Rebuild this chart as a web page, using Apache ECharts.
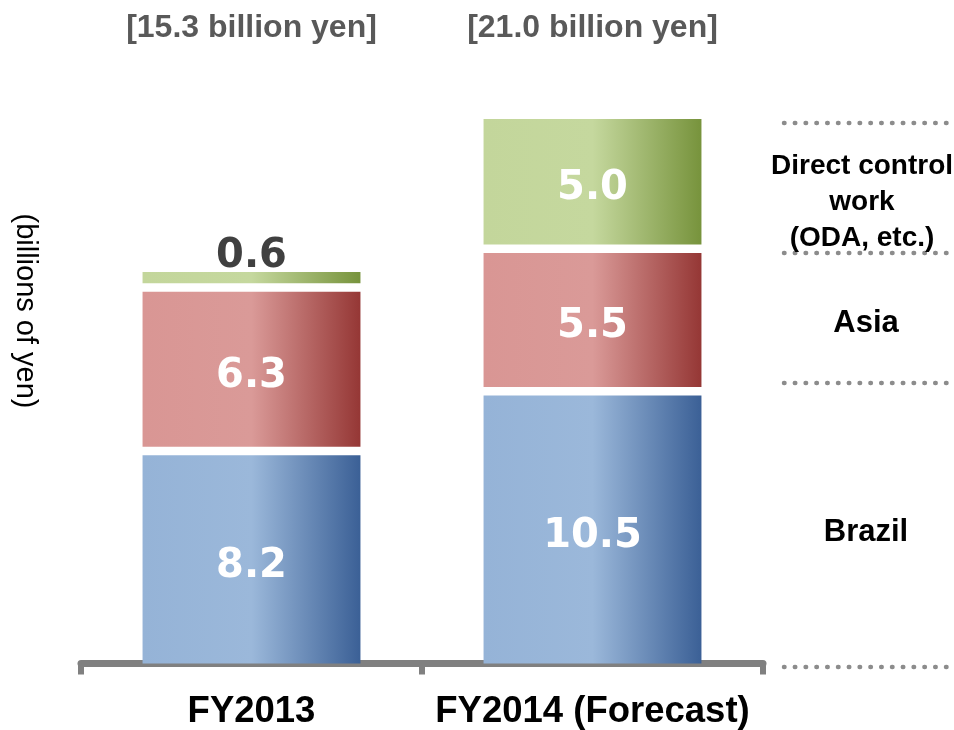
<!DOCTYPE html>
<html>
<head>
<meta charset="utf-8">
<script src="https://cdn.jsdelivr.net/npm/echarts@6/dist/echarts.min.js"></script>
<style>
  html, body { margin: 0; padding: 0; background: #fff; }
  #main { width: 954px; height: 730px; }
</style>
</head>
<body>
<div id="main"></div>
<script>
const categories = ['FY2013', 'FY2014 (Forecast)'];
const totalLabels = ['[15.3 billion yen]', '[21.0 billion yen]'];
const brazil = [8.2, 10.5];
const asia = [6.3, 5.5];
const directControl = [0.6, 5.0];
const segmentNames = ['Brazil', 'Asia', 'Direct control\nwork\n(ODA, etc.)'];

const stacks = [brazil, asia, directControl];
const gradients = [
    ['#95b3d7', '#9bb8da', '#3b6096'],
    ['#d99694', '#da9a98', '#953735'],
    ['#c3d69b', '#c5d89e', '#77933c']
];
const FONT = '"Liberation Sans", Arial, sans-serif';

// rows: [category index, stacked base, value, is top of stack]
function buildData(k) {
    return categories.map((c, i) => {
        let base = 0;
        for (let j = 0; j < k; j++) base += stacks[j][i];
        return [i, base, stacks[k][i], k === stacks.length - 1 ? 1 : 0];
    });
}

function makeRender(k) {
    const g = gradients[k];
    return function (params, api) {
        const idx = api.value(0), base = api.value(1), val = api.value(2), isTop = api.value(3) === 1;
        const p0 = api.coord([idx, base]);
        const p1 = api.coord([idx, base + val]);
        const bw = api.size([1, 0])[0] * 0.639;
        const gap = 4.25;
        const y0 = p0[1] - (base > 0 ? gap : 0);
        const y1 = p1[1] + (isTop ? 0 : gap);
        const h = y0 - y1;
        const small = h < 40;
        return {
            type: 'group',
            children: [
                {
                    type: 'rect',
                    shape: {x: p0[0] - bw / 2, y: y1, width: bw, height: h},
                    style: {
                        fill: new echarts.graphic.LinearGradient(0, 0, 1, 0, [
                            {offset: 0, color: g[0]},
                            {offset: 0.5, color: g[1]},
                            {offset: 1, color: g[2]}
                        ])
                    }
                },
                {
                    type: 'text',
                    x: p0[0],
                    y: small ? y1 - 15 : (y0 + y1) / 2 + 7,
                    style: {
                        text: val.toFixed(1),
                        fill: small ? '#404040' : '#ffffff',
                        font: 'bold 40px "DejaVu Sans", Verdana, sans-serif',
                        textAlign: 'center',
                        textVerticalAlign: 'middle'
                    }
                }
            ]
        };
    };
}

const chart = echarts.init(document.getElementById('main'), null, {renderer: 'canvas'});

const dotStyle = {stroke: '#8c8c8c', lineWidth: 4.5, lineCap: 'round', lineDash: [0.5, 10.3]};
const dotLines = [123, 253, 383, 667].map(y => ({
    type: 'line', shape: {x1: 784, y1: y, x2: 947, y2: y}, style: dotStyle, silent: true
}));

chart.setOption({
    animation: false,
    grid: {left: 81, right: 191, top: 119, bottom: 66},
    xAxis: [
        {
            type: 'category', data: categories, position: 'bottom', offset: 3.5,
            axisLine: {lineStyle: {color: '#808080', width: 7}},
            axisTick: {show: true, interval: 0, length: 11, lineStyle: {color: '#808080', width: 6}},
            axisLabel: {interval: 0, margin: 26, fontSize: 36.5, fontWeight: 'bold', color: '#000', fontFamily: FONT},
            splitLine: {show: false}
        },
        {
            type: 'category', data: totalLabels, position: 'top',
            axisLine: {show: false}, axisTick: {show: false},
            axisLabel: {interval: 0, margin: 75, fontSize: 32, fontWeight: 'bold', color: '#595959', fontFamily: FONT},
            splitLine: {show: false}
        }
    ],
    yAxis: {type: 'value', min: 0, max: 21, show: false},
    series: stacks.map((s, k) => ({
        type: 'custom',
        name: segmentNames[k],
        xAxisIndex: 0,
        renderItem: makeRender(k),
        data: buildData(k)
    })),
    graphic: dotLines.concat([
        {
            type: 'text', x: 25, y: 311, rotation: -Math.PI / 2,
            style: {text: '(billions of yen)', font: '29px ' + FONT, fill: '#000', textAlign: 'center', textVerticalAlign: 'middle'}
        },
        {
            type: 'text', x: 862, y: 202,
            style: {text: segmentNames[2], font: 'bold 28px ' + FONT, lineHeight: 36, fill: '#000', textAlign: 'center', textVerticalAlign: 'middle'}
        },
        {
            type: 'text', x: 866, y: 323,
            style: {text: segmentNames[1], font: 'bold 31px ' + FONT, fill: '#000', textAlign: 'center', textVerticalAlign: 'middle'}
        },
        {
            type: 'text', x: 866, y: 532,
            style: {text: segmentNames[0], font: 'bold 31px ' + FONT, fill: '#000', textAlign: 'center', textVerticalAlign: 'middle'}
        }
    ])
});
</script>
</body>
</html>
